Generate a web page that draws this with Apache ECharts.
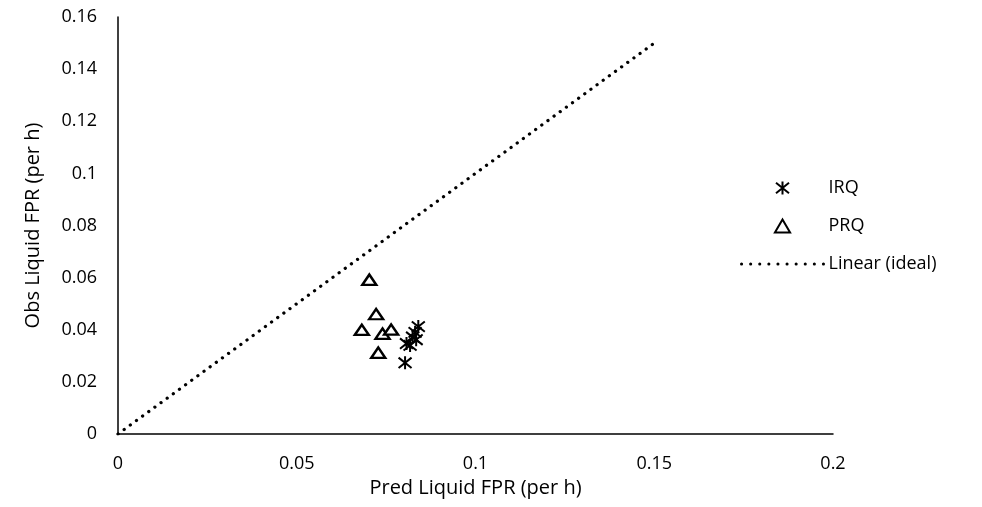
<!DOCTYPE html>
<html><head><meta charset="utf-8">
<script src="https://cdn.jsdelivr.net/npm/echarts@6/dist/echarts.min.js"></script>
<style>html,body{margin:0;padding:0;background:#fff}#c{width:982px;height:507px}</style>
</head><body><div id="c"></div>
<script>
const irqX = [0.0803, 0.0840, 0.0824, 0.0807, 0.0834, 0.0817, 0.0831];
const irqY = [0.0273, 0.0412, 0.0372, 0.0347, 0.0362, 0.0340, 0.0390];
const prqX = [0.0703, 0.0722, 0.0682, 0.0740, 0.0764, 0.0728];
const prqY = [0.0592, 0.0460, 0.0400, 0.0385, 0.0401, 0.0312];
const idealX = [0, 0.15];
const idealY = [0, 0.15];
const xTicks = [0, 0.05, 0.1, 0.15, 0.2];
const yTicks = [0, 0.02, 0.04, 0.06, 0.08, 0.1, 0.12, 0.14, 0.16];

const zip = (a, b) => a.map((v, i) => [v, b[i]]);
const font = '"Open Sans", sans-serif';
const asterisk = 'path://M-1,-0.8L1,0.8M-1,0.8L1,-0.8M0,-1L0,1';
const tri = 'path://M0,12L7,0L14,12Z';

const chart = echarts.init(document.getElementById('c'));
chart.setOption({
  animation: false,
  textStyle: { fontFamily: font, color: '#000' },
  grid: { left: 118, right: 149, top: 17, bottom: 73 },
  legend: {
    orient: 'vertical', left: 740, top: 179, padding: 0, itemWidth: 82, itemHeight: 13, itemGap: 20,
    symbolKeepAspect: true,
    textStyle: { fontSize: 18, color: '#000', fontFamily: font },
    data: ['IRQ', 'PRQ', { name: 'Linear (ideal)',
      lineStyle: { color: '#000', width: 3, type: [0.1, 9], cap: 'round' },
      itemStyle: { color: 'rgba(0,0,0,0)', borderColor: 'rgba(0,0,0,0)', borderWidth: 0 } }]
  },
  xAxis: {
    type: 'value', min: 0, max: 0.2, interval: 0.05,
    name: 'Pred Liquid FPR (per h)', nameLocation: 'middle', nameGap: 43,
    nameTextStyle: { fontSize: 20, color: '#000', fontFamily: font },
    axisLine: { show: true, lineStyle: { color: '#000', width: 1.5 } },
    axisTick: { show: false }, splitLine: { show: false },
    axisLabel: { fontSize: 18, color: '#000', margin: 21, fontFamily: font,
      formatter: v => String(+v.toFixed(2)) }
  },
  yAxis: {
    type: 'value', min: 0, max: 0.16, interval: 0.02,
    name: 'Obs Liquid FPR (per h)', nameLocation: 'middle', nameGap: 75,
    nameTextStyle: { fontSize: 20, color: '#000', fontFamily: font },
    axisLine: { show: true, lineStyle: { color: '#000', width: 1.5 } },
    axisTick: { show: false }, splitLine: { show: false },
    axisLabel: { fontSize: 18, color: '#000', margin: 21, fontFamily: font,
      formatter: v => String(+v.toFixed(2)) }
  },
  series: [
    { name: 'IRQ', type: 'scatter', data: zip(irqX, irqY), symbol: asterisk, symbolSize: [13, 13],
      symbolKeepAspect: true,
      itemStyle: { color: 'none', borderColor: '#000', borderWidth: 2, opacity: 1 }, z: 3 },
    { name: 'PRQ', type: 'scatter', data: zip(prqX, prqY), symbol: tri, symbolSize: [14, 12],
      symbolKeepAspect: true,
      itemStyle: { color: '#fff', borderColor: '#000', borderWidth: 2.4, opacity: 1 }, z: 2 },
    { name: 'Linear (ideal)', type: 'line', data: zip(idealX, idealY), symbol: 'none',
      lineStyle: { color: '#000', width: 3.2, type: [0.1, 7.5], cap: 'round' }, itemStyle: { color: '#000' }, z: 1 }
  ]
});
</script></body></html>
